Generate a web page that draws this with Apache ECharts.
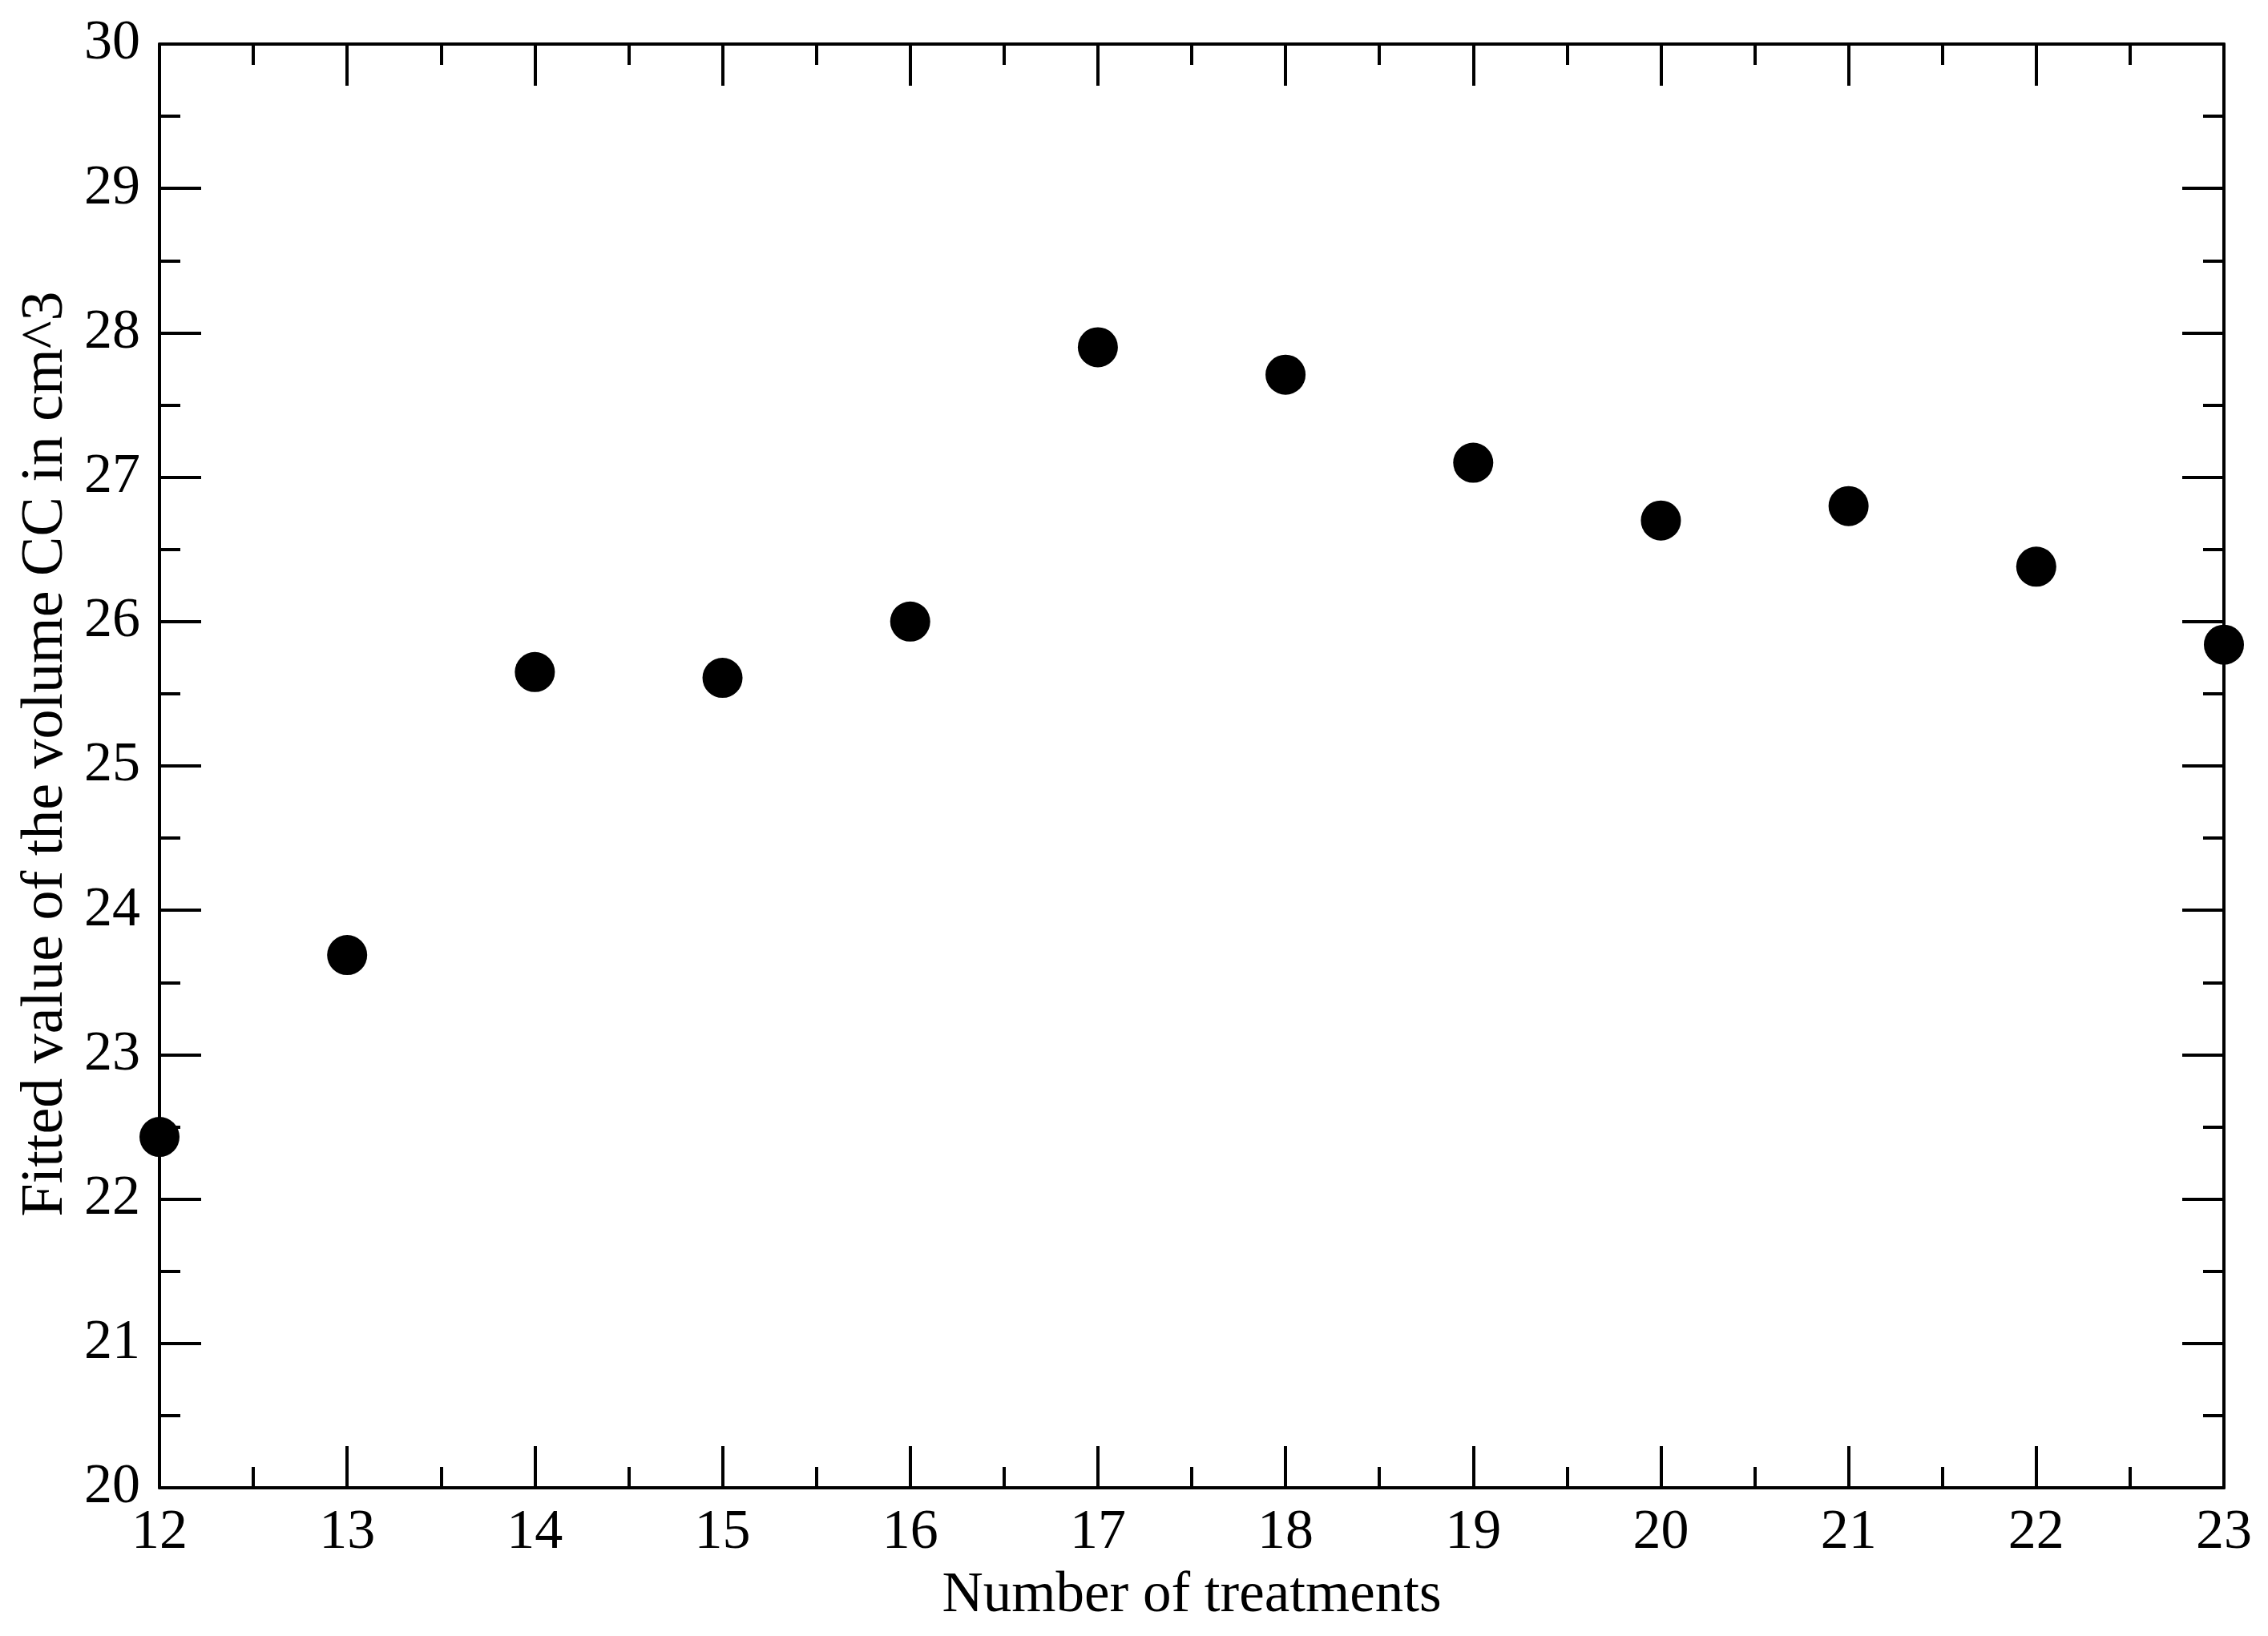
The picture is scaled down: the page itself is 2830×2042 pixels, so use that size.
<!DOCTYPE html>
<html>
<head>
<meta charset="utf-8">
<script src="https://cdn.jsdelivr.net/npm/echarts/dist/echarts.min.js"></script>
<style>
  html, body { margin: 0; padding: 0; background: #fff; }
  #main { width: 2830px; height: 2042px; }
</style>
</head>
<body>
<div id="main"></div>
<script>
// data
var treatments = [12, 13, 14, 15, 16, 17, 18, 19, 20, 21, 22, 23];
var volumeCC = [22.43, 23.69, 25.65, 25.61, 26.0, 27.9, 27.71, 27.1, 26.7, 26.8, 26.38, 25.84];

var xName = 'Number of treatments';
var yName = 'Fitted value of the volume CC in cm^3';

var points = treatments.map(function (t, i) { return [t, volumeCC[i]]; });

var font = '"Liberation Serif", "DejaVu Serif", serif';
var black = '#000';

// inner ticks on every side, like the original
function tickAxis(extra) {
  var base = {
    axisLine: { show: true, onZero: false, lineStyle: { color: black, width: 4 } },
    axisTick: { show: true, inside: true, length: 52, lineStyle: { color: black, width: 4 } },
    minorTick: { show: true, splitNumber: 2, length: 26, lineStyle: { color: black, width: 4 } },
    splitLine: { show: false },
    interval: 1
  };
  return Object.assign(base, extra);
}

var option = {
  backgroundColor: '#fff',
  animation: false,
  grid: { left: 199, right: 55, top: 55, bottom: 185 },
  xAxis: [
    tickAxis({
      type: 'value', min: 12, max: 23, position: 'bottom',
      axisLabel: { fontFamily: font, fontSize: 70, color: black, margin: 22 },
      name: xName, nameLocation: 'middle', nameGap: 100,
      nameTextStyle: { fontFamily: font, fontSize: 71, color: black }
    }),
    tickAxis({
      type: 'value', min: 12, max: 23, position: 'top',
      axisLabel: { show: false }
    })
  ],
  yAxis: [
    tickAxis({
      type: 'value', min: 20, max: 30, position: 'left',
      axisLabel: { fontFamily: font, fontSize: 70, color: black, margin: 24 },
      name: yName, nameLocation: 'middle', nameGap: 100,
      nameTextStyle: { fontFamily: font, fontSize: 74, color: black, padding: [0, 0, 0, 30] }
    }),
    tickAxis({
      type: 'value', min: 20, max: 30, position: 'right',
      axisLabel: { show: false }
    })
  ],
  series: [
    {
      type: 'scatter',
      data: points,
      symbol: 'circle',
      symbolSize: 50,
      itemStyle: { color: black, opacity: 1 },
      z: 5
    }
  ]
};

var myChart = echarts.init(document.getElementById('main'));
myChart.setOption(option);
</script>
</body>
</html>
